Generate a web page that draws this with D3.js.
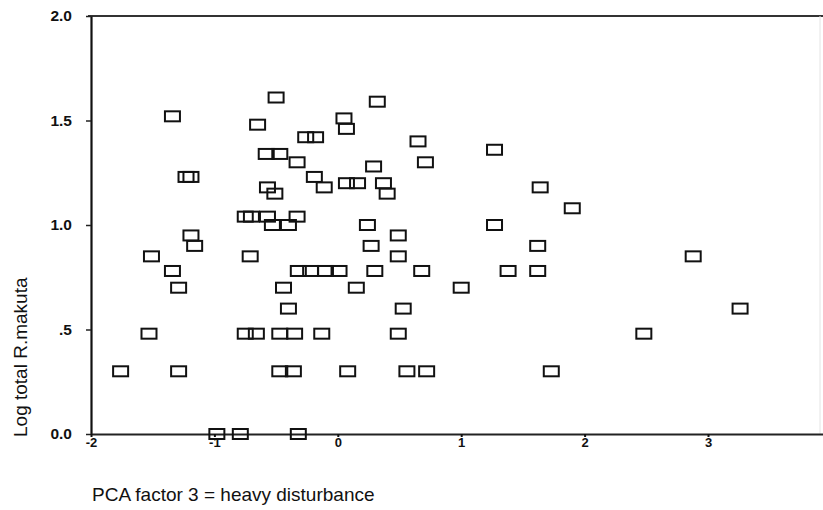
<!DOCTYPE html>
<html>
<head>
<meta charset="utf-8">
<script src="https://cdn.jsdelivr.net/npm/d3@7"></script>
<style>
  html, body { margin: 0; padding: 0; background: #fff; }
  svg { display: block; }
  .tick text { font-family: "Liberation Sans", Arial, sans-serif; font-weight: bold; fill: #111; }
</style>
</head>
<body>
<svg id="chart" width="823" height="510"></svg>
<script>
// PCA factor 3 score for each site
const factorScores = [
  -0.50, -1.34, 0.32, -0.65, 0.05, 0.07, 0.65, 1.27, -0.26, -0.18,
  -0.58, -0.47, -0.33, 0.71, 0.29, -1.23, -1.19, -0.19, -0.11, 0.07,
  0.16, 0.37, 0.40, -0.57, -0.51, 1.64, 1.90, -0.75, -0.70, -0.57,
  -0.33, -0.53, -0.40, 0.24, 1.27, -1.19, -1.16, 0.49, 0.27, 1.62,
  -1.51, -0.71, 0.49, 2.88, -1.34, -0.32, -0.22, -0.10, 0.01, 0.30,
  0.68, 1.38, 1.62, -1.29, -0.44, 0.15, 1.00, -0.40, 0.53, 3.26,
  -1.53, -0.75, -0.66, -0.47, -0.35, -0.13, 0.49, 2.48, -1.76, -1.29,
  -0.47, -0.36, 0.08, 0.56, 0.72, 1.73, -0.98, -0.79, -0.32
];

// log10 of the total R. makuta count at the same site
const logCounts = [
  1.61, 1.52, 1.59, 1.48, 1.51, 1.46, 1.40, 1.36, 1.42, 1.42,
  1.34, 1.34, 1.30, 1.30, 1.28, 1.23, 1.23, 1.23, 1.18, 1.20,
  1.20, 1.20, 1.15, 1.18, 1.15, 1.18, 1.08, 1.04, 1.04, 1.04,
  1.04, 1.00, 1.00, 1.00, 1.00, 0.95, 0.90, 0.95, 0.90, 0.90,
  0.85, 0.85, 0.85, 0.85, 0.78, 0.78, 0.78, 0.78, 0.78, 0.78,
  0.78, 0.78, 0.78, 0.70, 0.70, 0.70, 0.70, 0.60, 0.60, 0.60,
  0.48, 0.48, 0.48, 0.48, 0.48, 0.48, 0.48, 0.48, 0.30, 0.30,
  0.30, 0.30, 0.30, 0.30, 0.30, 0.30, 0.00, 0.00, 0.00
];

const xTicks = [-2, -1, 0, 1, 2, 3];
const xTickLabels = ["-2", "-1", "0", "1", "2", "3"];
const yTicks = [0, 0.5, 1, 1.5, 2];
const yTickLabels = ["0.0", ".5", "1.0", "1.5", "2.0"];

const xTitle = "PCA factor 3 = heavy disturbance";
const yTitle = "Log total R.makuta";

const svg = d3.select("#chart");
const W = 823, H = 510;
const plotLeft = 91, plotTop = 16, plotBottom = 434;
const unit = 123.4;

const x = d3.scaleLinear().domain([-2, 4]).range([plotLeft, plotLeft + 6 * unit]);
const y = d3.scaleLinear().domain([0, 2]).range([plotBottom, plotTop]);

// frame: top rule and faint right edge
svg.append("line")
  .attr("x1", plotLeft - 3).attr("x2", W).attr("y1", plotTop).attr("y2", plotTop)
  .attr("stroke", "#333").attr("stroke-width", 2);
svg.append("line")
  .attr("x1", 820).attr("x2", 820).attr("y1", plotTop).attr("y2", plotBottom)
  .attr("stroke", "#e4e4e4").attr("stroke-width", 1);

// y axis
const yAxis = svg.append("g")
  .attr("transform", `translate(${plotLeft},0)`)
  .call(d3.axisLeft(y)
    .tickValues(yTicks)
    .tickFormat((d, i) => yTickLabels[i])
    .tickSize(5)
    .tickSizeOuter(0)
    .tickPadding(14));
yAxis.select(".domain").attr("stroke", "#111").attr("stroke-width", 2.2);
yAxis.selectAll(".tick line").attr("stroke", "#222").attr("stroke-width", 1.5);
yAxis.selectAll(".tick text").attr("font-size", 15.5);

// x axis
const xAxis = svg.append("g")
  .attr("transform", `translate(0,${plotBottom})`)
  .call(d3.axisBottom(x)
    .tickValues(xTicks)
    .tickFormat((d, i) => xTickLabels[i])
    .tickSize(3)
    .tickSizeOuter(0)
    .tickPadding(1));
xAxis.select(".domain").attr("stroke", "#222").attr("stroke-width", 2);
xAxis.selectAll(".tick line").attr("stroke", "#111").attr("stroke-width", 2);
xAxis.selectAll(".tick text").attr("font-size", 13);

// open square markers
const points = factorScores.map((v, i) => ({ fx: v, ly: logCounts[i] }));
const bw = 15, bh = 10;
svg.append("g")
  .selectAll("rect")
  .data(points)
  .join("rect")
  .attr("x", d => x(d.fx) - bw / 2)
  .attr("y", d => y(d.ly) - bh / 2)
  .attr("width", bw)
  .attr("height", bh)
  .attr("fill", "none")
  .attr("stroke", "#111")
  .attr("stroke-width", 2);

// axis titles
svg.append("text")
  .attr("transform", "translate(27,437) rotate(-90)")
  .attr("text-anchor", "start")
  .attr("font-family", "Liberation Sans, Arial, sans-serif")
  .attr("font-size", 19)
  .attr("fill", "#111")
  .text(yTitle);

svg.append("text")
  .attr("x", 92).attr("y", 501)
  .attr("font-family", "Liberation Sans, Arial, sans-serif")
  .attr("font-size", 19)
  .attr("fill", "#111")
  .text(xTitle);
</script>
</body>
</html>
